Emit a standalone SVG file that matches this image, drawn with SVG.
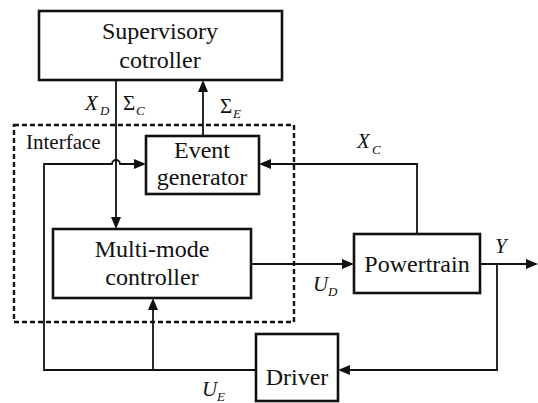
<svg xmlns="http://www.w3.org/2000/svg" width="538" height="403" viewBox="0 0 538 403">
  <rect width="538" height="403" fill="#fff"/>

  <!-- interface boundary -->
  <g id="interface">
    <rect x="14" y="125" width="280" height="197" fill="none" stroke="#111" stroke-width="2.4" stroke-dasharray="5 3"/>
    <text x="26" y="149" font-family="Liberation Serif" font-size="21" fill="#111">Interface</text>
  </g>

  <!-- connectors: wires, then their filled arrowheads -->
  <g id="connectors">
    <g fill="none" stroke="#111" stroke-width="1.8">
      <path d="M116,80 V218"/>
      <path d="M203,136 V91"/>
      <path d="M153,370 H44 V164 H112 A4,4 0 0 1 120,164 H135"/>
      <path d="M153,370 V309"/>
      <path d="M153,370 H256"/>
      <path d="M417,234 V164 H270"/>
      <path d="M251,264 H343"/>
      <path d="M480,264 H527"/>
      <path d="M497,264 V370 H349"/>
    </g>
    <g fill="#111">
      <polygon points="111,217 121,217 116,229"/>
      <polygon points="198,92 208,92 203,80"/>
      <polygon points="134,159 134,169 146,164"/>
      <polygon points="148,310 158,310 153,298"/>
      <polygon points="271,159 271,169 259,164"/>
      <polygon points="342,259 342,269 354,264"/>
      <polygon points="526,259 526,269 538,264"/>
      <polygon points="350,365 350,375 338,370"/>
    </g>
  </g>

  <!-- blocks -->
  <g stroke="#111" stroke-width="2.6" fill="#fff">
    <g id="supervisory"><rect x="39" y="11" width="243" height="69"/></g>
    <g id="event-generator"><rect x="146" y="136" width="113" height="58"/></g>
    <g id="multi-mode"><rect x="53" y="229" width="198" height="69"/></g>
    <g id="powertrain"><rect x="354" y="234" width="126" height="59"/></g>
    <g id="driver"><rect x="256" y="334" width="82" height="67"/></g>
  </g>

  <text x="160" y="39" font-family="Liberation Serif" font-size="24" fill="#111" text-anchor="middle">Supervisory</text>
  <text x="160" y="68" font-family="Liberation Serif" font-size="24" fill="#111" text-anchor="middle">cotroller</text>
  <text x="202" y="158" font-family="Liberation Serif" font-size="24" fill="#111" text-anchor="middle">Event</text>
  <text x="202" y="185" font-family="Liberation Serif" font-size="24" fill="#111" text-anchor="middle">generator</text>
  <text x="152" y="257" font-family="Liberation Serif" font-size="24" fill="#111" text-anchor="middle">Multi-mode</text>
  <text x="152" y="285" font-family="Liberation Serif" font-size="24" fill="#111" text-anchor="middle">controller</text>
  <text x="417" y="272" font-family="Liberation Serif" font-size="24" fill="#111" text-anchor="middle">Powertrain</text>
  <text x="297" y="385" font-family="Liberation Serif" font-size="24" fill="#111" text-anchor="middle">Driver</text>

  <!-- signal labels -->
  <text x="85" y="110" font-family="Liberation Serif" font-size="21" font-style="italic" fill="#111">X</text>
  <text x="100" y="115" font-family="Liberation Serif" font-size="13" font-style="italic" fill="#111">D</text>
  <text x="123" y="110" font-family="Liberation Serif" font-size="21" fill="#111">&#931;</text>
  <text x="136" y="115" font-family="Liberation Serif" font-size="13" font-style="italic" fill="#111">C</text>
  <text x="220" y="113" font-family="Liberation Serif" font-size="21" fill="#111">&#931;</text>
  <text x="233" y="118" font-family="Liberation Serif" font-size="13" font-style="italic" fill="#111">E</text>
  <text x="357" y="148" font-family="Liberation Serif" font-size="21" font-style="italic" fill="#111">X</text>
  <text x="372" y="154" font-family="Liberation Serif" font-size="13" font-style="italic" fill="#111">C</text>
  <text x="495" y="253" font-family="Liberation Serif" font-size="21" font-style="italic" fill="#111">Y</text>
  <text x="313" y="291" font-family="Liberation Serif" font-size="21" font-style="italic" fill="#111">U</text>
  <text x="328" y="296" font-family="Liberation Serif" font-size="13" font-style="italic" fill="#111">D</text>
  <text x="202" y="396" font-family="Liberation Serif" font-size="21" font-style="italic" fill="#111">U</text>
  <text x="217" y="401" font-family="Liberation Serif" font-size="13" font-style="italic" fill="#111">E</text>
</svg>
